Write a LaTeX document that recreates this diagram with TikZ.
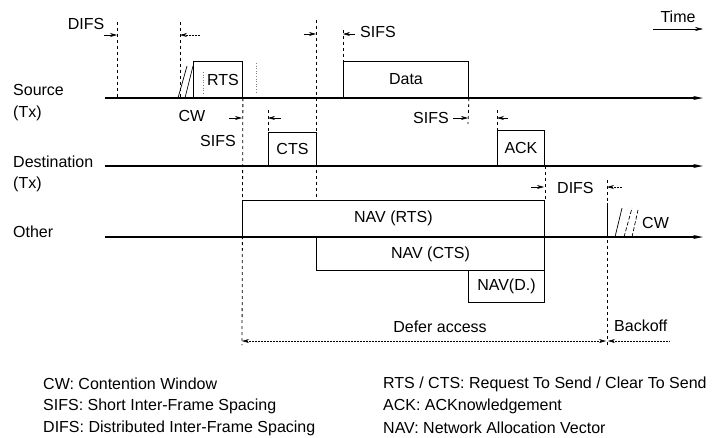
\documentclass[tikz,border=0pt]{standalone}
\usepackage{fontspec}
\setmainfont{Liberation Sans}
\usetikzlibrary{arrows.meta}
\begin{document}
\begin{tikzpicture}[x=1pt,y=-1pt,
  lbl/.style={font=\fontsize{16}{18}\selectfont, inner sep=0pt},
  tl/.style={line width=1.3pt, -{Stealth[length=10pt,width=4pt]}},
  frame/.style={draw, line width=0.9pt, inner sep=0pt, font=\fontsize{16}{18}\selectfont},
  vd/.style={dash pattern=on 3pt off 3pt, line width=0.8pt},
  tick/.style={line width=0.6pt, -{Stealth[length=7pt,width=4pt]}},
  dline/.style={line width=0.5pt, dash pattern=on 2pt off 1pt},
  ghost/.style={gray, dotted, line width=0.6pt}]
\useasboundingbox (0,0) rectangle (719,437);
\fill[white] (0,0) rectangle (719,437);

% time lines
\coordinate (s0) at (105,98);  \coordinate (s1) at (703,98);
\coordinate (d0) at (105,166); \coordinate (d1) at (703,166);
\coordinate (o0) at (105,237); \coordinate (o1) at (703,237);
\draw[tl] (s0) -- (s1);
\draw[tl] (d0) -- (d1);
\draw[tl] (o0) -- (o1);

% row labels
\node[lbl, anchor=west] (srcl) at (13,90) {Source};
\node[lbl, anchor=west] (srctx) at (13,113) {(Tx)};
\node[lbl, anchor=west] (dstl) at (13,162) {Destination};
\node[lbl, anchor=west] (dsttx) at (13,184) {(Tx)};
\node[lbl, anchor=west] (othl) at (13,232) {Other};

% frames
\node[frame, anchor=south west, minimum width=49pt, minimum height=36pt] (rts) at (193,98) {\hspace*{10pt}RTS};
\node[frame, anchor=south west, minimum width=48pt, minimum height=33pt] (cts) at (268,166) {CTS};
\node[frame, anchor=south west, minimum width=125pt, minimum height=36pt] (data) at (343,98) {Data};
\node[frame, anchor=south west, minimum width=47pt, minimum height=35pt] (ack) at (497,166) {ACK};
\node[frame, anchor=south west, minimum width=302pt, minimum height=36pt] (navrts) at (242,237) {NAV (RTS)};
\node[frame, anchor=north west, minimum width=228pt, minimum height=33pt] (navcts) at (316,237) {NAV (CTS)};
\node[frame, anchor=north west, minimum width=76pt, minimum height=32pt] (navd) at (468,270) {NAV(D.)};

% ghost marks near RTS
\draw[ghost] (203,72) -- (203,94);
\draw[ghost] (256,63) -- (256,92);

% CW hatch at source
\draw[line width=0.7pt] (178,98) -- (187,66);
\draw[line width=0.7pt] (185,98) -- (193,66);
\node[lbl, anchor=center] (cwsrc) at (192,116) {CW};

% dashed verticals
\draw[vd] (117,22) -- (117,98);
\draw[vd] (180,22) -- (180,98);
\draw[vd] (rts.south east) -- (242,345);
\draw[vd] (268,110) -- (cts.north west);
\draw[vd] (316,20) -- (navrts.north west -| 316,0);
\draw[vd] (343,30) -- (data.north west);
\draw[vd] (data.south east) -- (468,124);
\draw[vd] (497,110) -- (ack.north west);
\draw[vd] (ack.south east) -- (navrts.north east);
\draw[vd] (607,180) -- (607,345);

% DIFS (top left)
\node[lbl, anchor=center] (difs1) at (86,24) {DIFS};
\draw[tick] (104,35) -- (117,35);
\draw[tick, dash pattern=on 2pt off 1pt] (200,35) -- (180,35);

% SIFS source/dest
\draw[tick] (229,118) -- (242,118);
\draw[tick] (281,118) -- (268,118);
\node[lbl, anchor=east] (sifs1) at (236,141) {SIFS};

% SIFS before data
\draw[tick] (304,34) -- (316,34);
\draw[tick] (355,34) -- (343,34);
\node[lbl, anchor=west] (sifs2) at (360,32) {SIFS};

% SIFS before ack
\node[lbl, anchor=east] (sifs3) at (449,118) {SIFS};
\draw[tick] (453,118) -- (468,118);
\draw[tick] (508,118) -- (497,118);

% DIFS after ack
\draw[tick] (531,187) -- (544,187);
\node[lbl, anchor=west] (difs2) at (557,188) {DIFS};
\draw[tick, dash pattern=on 2pt off 1pt] (622,187) -- (607,187);

% CW hatch at other
\draw[line width=0.8pt] (607,203) -- (607,237);
\draw[line width=0.7pt] (615,237) -- (622,208);
\draw[line width=0.7pt, dash pattern=on 4pt off 2pt] (624,237) -- (632,208);
\draw[line width=0.7pt, dash pattern=on 4pt off 2pt] (632,237) -- (638,210);
\node[lbl, anchor=west] (cwoth) at (642,223) {CW};

% defer access / backoff
\draw[dline, {Stealth[length=7pt,width=4pt]}-{Stealth[length=7pt,width=4pt]}] (242,341) -- (606,341);
\draw[dline, {Stealth[length=7pt,width=4pt]}-] (608,341) -- (670,341);
\node[lbl, anchor=center] (defer) at (440,327) {Defer access};
\node[lbl, anchor=west] (backoff) at (614,326) {Backoff};

% time
\node[lbl, anchor=center] (time) at (678,17) {Time};
\draw[line width=0.6pt, -{Stealth[length=8pt,width=4pt]}] (653,29) -- (703,29);

% legend
\node[lbl, anchor=west] (lg1) at (43,384) {CW: Contention Window};
\node[lbl, anchor=west] (lg2) at (43,406) {SIFS: Short Inter-Frame Spacing};
\node[lbl, anchor=west] (lg3) at (43,428) {DIFS: Distributed Inter-Frame Spacing};
\node[lbl, anchor=west] (lg4) at (383,384) {RTS / CTS: Request To Send / Clear To Send};
\node[lbl, anchor=west] (lg5) at (383,406) {ACK: ACKnowledgement};
\node[lbl, anchor=west] (lg6) at (383,428) {NAV: Network Allocation Vector};
\end{tikzpicture}
\end{document}
